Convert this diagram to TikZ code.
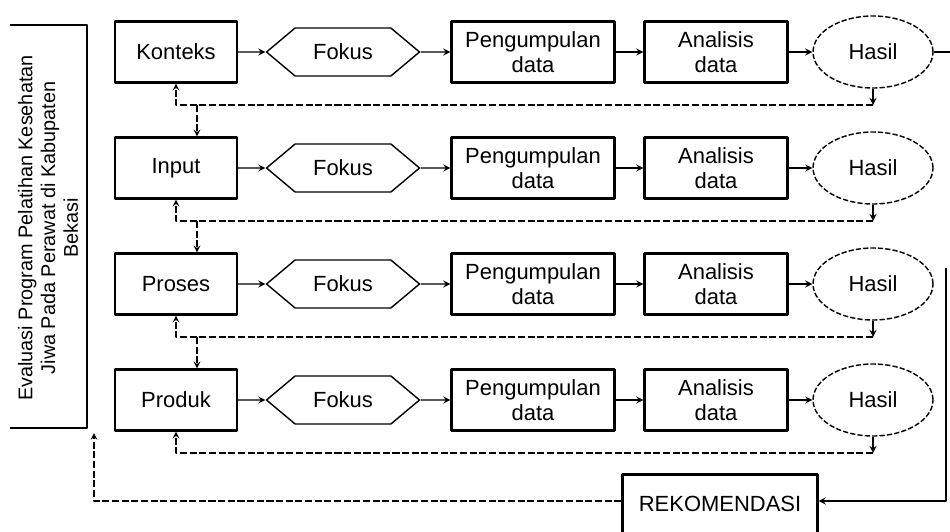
\documentclass[tikz,border=0pt]{standalone}
\usepackage{fontspec}
\setmainfont{Liberation Sans}
\usetikzlibrary{shapes.geometric,shapes.symbols,arrows}

\tikzset{
  kotak/.style={draw, line width=1.3pt, minimum height=1.22cm, align=center, inner sep=2pt},
  fokus/.style={draw, line width=0.8pt, signal, signal to=west and east, signal pointer angle=80,
    minimum width=3.06cm, minimum height=0.96cm},
  hasil/.style={draw, line width=0.8pt, dash pattern=on 3pt off 1.2pt, ellipse,
    minimum width=2.4cm, minimum height=1.44cm},
  balik/.style={line width=0.7pt, dash pattern=on 4pt off 1.5pt}
}

\begin{document}
\begin{tikzpicture}[x=0.02cm, y=-0.02cm, line join=round, >=stealth, line width=0.8pt,
  font=\fontsize{12.5}{14.5}\selectfont]
  \useasboundingbox (0,0) rectangle (950,531);

  % Judul di sebelah kiri
  \draw (10,25) -- (87,25) -- (87,428) -- (10,428);
  \node[rotate=90, align=center, font=\fontsize{11.3}{13}\selectfont] (judul) at (48,228)
    {Evaluasi Program Pelatihan Kesehatan\\Jiwa Pada Perawat di Kabupaten\\Bekasi};

  % Empat baris: konteks, input, proses, produk
  \foreach \i/\yy/\nama in {1/52/Konteks, 2/168/Input, 3/284/Proses, 4/400/Produk}{
    \node[kotak, minimum width=2.44cm] (k\i) at (176,\yy) {\nama};
    \node[fokus] (f\i) at (343,\yy) {Fokus};
    \node[kotak, minimum width=3.26cm] (p\i) at (533,\yy) {Pengumpulan\\data};
    \node[kotak, minimum width=2.86cm] (a\i) at (716,\yy) {Analisis\\data};
    \node[hasil] (h\i) at (873,\yy) {Hasil};
    \draw[->] (k\i) -- (f\i);
    \draw[->] (f\i) -- (p\i);
    \draw[->] (p\i) -- (a\i);
    \draw[->] (a\i) -- (h\i);
    % umpan balik ke komponen
    \coordinate (r\i) at (873,\yy+53);
    \coordinate (l\i) at (176,\yy+53);
    \coordinate (d\i) at (197,\yy+53);
    \draw[->] (h\i) -- (r\i);
    \draw[balik,->] (r\i) -- (l\i) -- (k\i);
  }

  % Turun ke baris berikutnya
  \foreach \i/\j in {1/2, 2/3, 3/4}
    \draw[balik,->] (d\i) -- (k\j.north -| d\i);

  % Rekomendasi
  \node[kotak, minimum width=3.9cm, minimum height=1.34cm] (rek) at (720,508) {\raisebox{5pt}{REKOMENDASI}};
  \coordinate (ujung) at (950,0);
  \draw (h1.east) -- (h1.east -| ujung);
  \coordinate (kanan) at (946,268);
  \coordinate (bawah) at (946,501);
  \draw[->] (kanan) -- (bawah) -- (bawah -| rek.east);
  \coordinate (kiri) at (94,501);
  \coordinate (atas) at (94,433);
  \draw[balik,->] (bawah -| rek.west) -- (kiri) -- (atas);
\end{tikzpicture}
\end{document}
